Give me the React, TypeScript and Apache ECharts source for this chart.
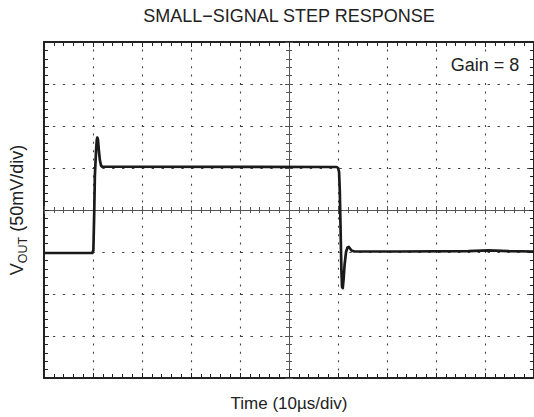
import { useEffect, useRef } from "react";
import * as echarts from "echarts";

// Trace: time relative to screen centre (µs), output (mV)
const TIME_US = [
  -50, -40.12, -39.92, -39.74, -39.62, -39.37, -39.23, -39.13, -38.99, -38.81,
  -38.6, -38.36, -38.12, -36.2, 9.72, 10.02, 10.22, 10.36, 10.53, 10.69,
  10.83, 10.97, 11.13, 11.34, 11.64, 11.94, 12.21, 12.45, 12.75, 13.36,
  22.5, 36.6, 40.7, 44.7, 50,
];
const VOUT_MV = [
  -51.2, -51.2, -47.6, 0, 40.5, 71.4, 83.3, 86.3, 83.9, 71.4,
  59.5, 53, 51.5, 51.5, 51.2, 50, 45.2, 23.8, -23.8, -71.4,
  -91.7, -92.9, -83.3, -65.5, -50, -44.6, -44, -45.8, -48.2, -49.4,
  -49.4, -49, -48, -49, -49.4,
];

const X_MIN = -50;
const X_MAX = 50;
const X_DIV = 10;
const Y_MIN = -200;
const Y_MAX = 200;
const Y_DIV = 50;

const TITLE = "SMALL\u2212SIGNAL STEP RESPONSE";
const X_NAME = "Time (10\u00b5s/div)";
const GAIN_TEXT = "Gain = 8";

export default function App() {
  const ref = useRef<HTMLDivElement>(null);

  useEffect(() => {
    if (!ref.current) return;
    const chart = echarts.init(ref.current, null, { renderer: "svg" });
    const FONT = "'Liberation Sans', Arial, Helvetica, sans-serif";
    const TXT = "#222";

    const xBase = {
      type: "value",
      min: X_MIN,
      max: X_MAX,
      interval: X_DIV,
      axisLabel: { show: false },
      splitLine: { show: false },
    };
    const yBase = {
      type: "value",
      min: Y_MIN,
      max: Y_MAX,
      interval: Y_DIV,
      axisLabel: { show: false },
      splitLine: { show: false },
    };
    const frameLine = (onZero: boolean) =>
      onZero
        ? { show: true, onZero: true, onZeroAxisIndex: 0, lineStyle: { color: "#555", width: 1 } }
        : { show: true, onZero: false, lineStyle: { color: "#222", width: 2 } };
    const frameTick = { show: true, inside: true, length: 5, lineStyle: { color: "#222", width: 1 } };
    const frameMinor = { show: true, splitNumber: 5, length: 4, lineStyle: { color: "#222", width: 1 } };
    const centerTick = { show: true, inside: true, length: 4, lineStyle: { color: "#555", width: 1 } };
    const centerMinor = { show: true, splitNumber: 5, length: 3, lineStyle: { color: "#555", width: 1 } };

    const option: any = {
      animation: false,
      backgroundColor: "#fff",
      grid: { left: 42, top: 42, width: 494, height: 336, containLabel: false },
      xAxis: [
        {
          ...xBase,
          position: "bottom",
          axisLine: frameLine(false),
          axisTick: frameTick,
          minorTick: frameMinor,
          splitLine: {
            show: true,
            lineStyle: { color: "#444", width: 1.1, type: [2, 6.4], dashOffset: 1 },
          },
          name: X_NAME,
          nameLocation: "middle",
          nameGap: 17,
          nameTextStyle: { fontSize: 17, color: TXT, fontFamily: FONT },
        },
        { ...xBase, position: "top", axisLine: frameLine(false), axisTick: frameTick, minorTick: frameMinor },
        { ...xBase, position: "bottom", axisLine: frameLine(true), axisTick: centerTick, minorTick: centerMinor },
        { ...xBase, position: "top", axisLine: frameLine(true), axisTick: centerTick, minorTick: centerMinor },
      ],
      yAxis: [
        {
          ...yBase,
          position: "left",
          axisLine: frameLine(false),
          axisTick: frameTick,
          minorTick: frameMinor,
          splitLine: {
            show: true,
            lineStyle: { color: "#444", width: 1.1, type: [2.4, 7.48], dashOffset: 1.2 },
          },
          name: "{a|V}{b|OUT}{a| (50mV/div)}",
          nameLocation: "middle",
          nameGap: 15,
          nameTextStyle: {
            color: TXT,
            fontFamily: FONT,
            rich: {
              a: { fontSize: 18, color: TXT, fontFamily: FONT, lineHeight: 24, verticalAlign: "middle" },
              b: { fontSize: 12.5, color: TXT, fontFamily: FONT, lineHeight: 12, verticalAlign: "bottom" },
            },
          },
        },
        { ...yBase, position: "right", axisLine: frameLine(false), axisTick: frameTick, minorTick: frameMinor },
        { ...yBase, position: "left", axisLine: frameLine(true), axisTick: centerTick, minorTick: centerMinor },
        { ...yBase, position: "right", axisLine: frameLine(true), axisTick: centerTick, minorTick: centerMinor },
      ],
      series: [
        {
          type: "line",
          xAxisIndex: 0,
          yAxisIndex: 0,
          data: TIME_US.map((t, i) => [t, VOUT_MV[i]]),
          symbol: "none",
          showSymbol: false,
          lineStyle: { color: "#1a1a1a", width: 2.7, join: "round" },
          z: 10,
        },
      ],
      graphic: [
        {
          type: "text",
          x: 289,
          y: 16,
          style: {
            text: TITLE,
            align: "center",
            verticalAlign: "middle",
            fontSize: 18,
            fontFamily: FONT,
            fill: TXT,
          },
        },
        {
          type: "text",
          x: 485,
          y: 65,
          z: 100,
          style: {
            text: GAIN_TEXT,
            align: "center",
            verticalAlign: "middle",
            fontSize: 18,
            fontFamily: FONT,
            fill: TXT,
            backgroundColor: "#fff",
            padding: [4, 4],
          },
        },
      ],
    };

    chart.setOption(option);
    return () => chart.dispose();
  }, []);

  return (
    <div
      ref={ref}
      style={{ position: "fixed", left: 0, top: 0, width: 534, height: 417, background: "#fff" }}
    />
  );
}
